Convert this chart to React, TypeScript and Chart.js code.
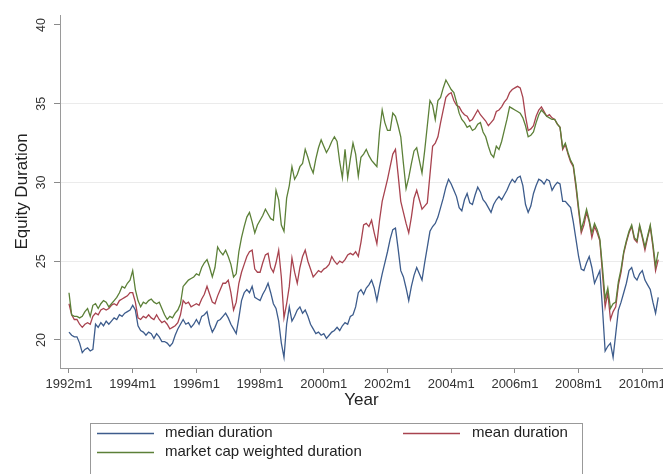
import React, { useEffect, useRef } from "react";
import { Chart, registerables } from "chart.js";
Chart.register(...registerables);

// Monthly data, 1992m1 .. 2010m7
const xTickLabels = ["1992m1", "1994m1", "1996m1", "1998m1", "2000m1", "2002m1", "2004m1", "2006m1", "2008m1", "2010m1"];
const monthsPerTick = 24;
const yTickValues = [20, 25, 30, 35, 40];

const medianDuration = [
  20.5, 20.3, 20.2, 20.2, 19.8, 19.2, 19.4, 19.5, 19.3, 19.4, 21.0, 20.8,
  21.1, 20.9, 21.2, 21.0, 21.2, 21.4, 21.3, 21.6, 21.5, 21.7, 21.8, 21.9,
  22.2, 21.9, 20.9, 20.6, 20.5, 20.3, 20.5, 20.4, 20.1, 20.4, 20.2, 19.9,
  19.9, 19.8, 19.6, 19.8, 20.3, 20.7, 21.0, 21.3, 21.0, 21.1, 20.8, 21.0,
  21.3, 21.0, 21.5, 21.6, 21.8, 21.0, 20.5, 20.8, 21.2, 21.3, 21.5, 21.7,
  21.4, 21.0, 20.7, 20.4, 21.4, 22.5, 23.0, 23.2, 23.0, 23.4, 22.7, 22.6,
  22.5, 22.9, 23.2, 23.6, 23.0, 22.3, 22.0, 21.2, 19.8, 18.9, 21.0, 22.1,
  21.2, 21.5, 21.9, 22.1, 21.7, 21.9, 21.5, 21.0, 20.7, 20.4, 20.5, 20.3,
  20.4, 20.1, 20.3, 20.5, 20.6, 20.8, 20.6, 20.9, 21.1, 21.0, 21.5, 21.6,
  22.1, 23.0, 23.2, 22.9, 23.3, 23.5, 23.8, 23.3, 22.5, 23.4, 24.2, 24.9,
  25.6, 26.4, 27.0, 27.1, 25.8, 24.4, 24.0, 23.3, 22.5, 23.4, 24.1, 24.6,
  24.2, 23.8, 24.9, 25.9, 26.9, 27.2, 27.4, 27.8, 28.4, 29.0, 29.7, 30.2,
  29.9, 29.5, 29.1, 28.4, 28.2, 28.9, 29.3, 28.7, 28.6, 29.2, 29.7, 29.4,
  28.9, 28.7, 28.4, 28.1, 28.6, 28.9, 29.1, 28.9, 29.2, 29.5, 29.9, 30.2,
  30.0, 30.3, 30.4, 29.8, 28.6, 28.1, 28.5, 29.3, 29.8, 30.2, 30.1, 29.9,
  30.2, 30.1, 29.5, 29.8, 30.0, 29.9, 28.8, 28.8, 28.6, 28.4, 27.5, 26.4,
  25.3, 24.5, 24.4, 24.9, 25.3, 24.6, 23.6, 24.0, 24.4, 22.0, 19.3, 19.6,
  19.8, 18.9, 20.4, 21.9, 22.4, 23.0, 23.6, 24.4, 24.6, 24.0, 23.8, 24.2,
  24.4, 23.8, 23.5, 23.2, 22.4, 21.7, 22.7,
];

const meanDuration = [
  22.3, 21.6, 21.3, 21.3, 21.0, 20.8, 21.0, 21.1, 21.0, 21.5, 21.7, 21.6,
  21.9, 22.0, 21.9, 22.0, 22.2, 22.3, 22.2, 22.5, 22.6, 22.7, 22.8, 23.0,
  23.0, 22.4, 21.4, 21.3, 21.5, 21.4, 21.6, 21.4, 21.3, 21.6, 21.3, 21.1,
  21.2, 21.0, 20.7, 20.8, 20.9, 21.1, 21.6, 22.5, 22.3, 22.4, 22.1, 22.2,
  22.3, 22.2, 22.6, 22.9, 23.4, 22.9, 22.4, 22.3, 22.8, 23.2, 23.6, 23.6,
  23.8, 23.0, 21.9, 22.4, 23.6, 24.3, 24.8, 25.3, 25.6, 25.7, 24.5, 24.3,
  24.3, 24.9, 25.4, 25.5, 24.6, 24.3, 24.9, 25.7, 24.0, 21.4, 22.3, 23.4,
  25.2, 24.3, 23.6, 24.6, 25.3, 25.7, 25.0, 24.5, 24.0, 24.2, 24.4, 24.3,
  24.5, 24.6, 24.8, 25.3, 25.0, 24.8, 25.0, 24.9, 25.1, 25.4, 25.5, 25.4,
  25.6, 25.3, 26.2, 27.3, 27.4, 27.2, 27.6, 26.8, 26.1, 27.6, 28.8, 29.5,
  30.2, 31.0, 31.8, 32.1, 30.5, 28.8, 28.1, 27.4, 26.8, 27.8, 29.0, 29.5,
  28.9, 28.3, 28.5, 28.7, 30.5, 32.3, 32.5, 32.9, 33.8, 34.6, 35.4, 35.6,
  35.7, 35.2, 34.9, 34.8, 34.5, 34.3, 34.2, 33.9, 34.0, 34.3, 34.6, 34.3,
  34.1, 33.9, 33.6, 33.8, 34.0, 34.5, 34.6, 34.8, 35.1, 35.3, 35.7, 35.9,
  36.0, 36.1, 36.0, 35.4, 34.2, 33.3, 33.4, 33.6, 34.2, 34.6, 34.8, 34.5,
  34.2, 34.3, 34.1, 34.0, 33.7, 33.5, 32.1, 32.4, 31.8, 31.3, 31.0, 29.7,
  28.2, 26.8, 27.3, 28.1, 27.5, 26.5, 27.2, 26.8, 26.3, 24.2, 22.1, 23.0,
  21.3, 21.8, 22.1, 23.5, 24.3, 25.5, 26.2, 26.8, 27.2, 26.4, 26.2, 27.2,
  26.5, 25.7, 26.5, 27.2, 25.9, 24.4, 25.1,
];

const marketCapWeightedDuration = [
  23.0, 21.6, 21.5, 21.5, 21.4, 21.5, 21.8, 22.0, 21.5, 22.2, 22.3, 22.0,
  22.3, 22.5, 22.4, 22.1, 22.3, 22.5, 22.7, 23.0, 23.4, 23.3, 23.6, 23.8,
  24.4, 23.2, 22.5, 22.1, 22.4, 22.3, 22.5, 22.6, 22.4, 22.3, 22.4, 22.0,
  21.6, 21.3, 21.5, 21.4, 21.7, 21.9, 22.3, 23.4, 23.6, 23.8, 23.9, 24.0,
  24.2, 24.1, 24.6, 24.9, 25.1, 24.6, 24.0, 24.6, 25.9, 25.6, 25.4, 25.7,
  25.3, 24.8, 24.0, 24.2, 25.6, 26.5, 27.2, 27.8, 28.1, 27.5, 26.8, 27.3,
  27.6, 27.9, 28.3, 28.0, 27.7, 27.6, 29.5, 28.9, 27.3, 26.9, 29.0, 29.8,
  31.0, 30.2, 30.5, 31.0, 31.2, 32.1, 31.6, 31.0, 30.6, 31.5, 32.2, 32.7,
  32.3, 31.9, 32.2, 32.6, 32.9, 32.6, 31.3, 30.3, 32.1, 30.3, 31.5, 32.5,
  31.8, 30.4, 31.6, 31.8, 32.1, 31.7, 31.4, 31.2, 31.0, 33.2, 34.6, 33.8,
  33.3, 33.3, 34.4, 34.2, 33.6, 32.9, 31.2, 29.6, 30.3, 31.2, 32.0, 32.2,
  31.4, 30.6, 32.0, 33.6, 35.2, 34.9, 34.0, 35.2, 35.4, 36.0, 36.5, 36.2,
  35.9, 35.7, 35.1, 34.4, 34.0, 33.8, 33.5, 33.6, 33.3, 33.4, 33.7, 33.8,
  33.2, 32.9, 32.3, 31.8, 31.6, 32.3, 32.1, 32.6, 33.3, 34.0, 34.8, 34.7,
  34.6, 34.5, 34.4, 34.1, 33.6, 32.9, 33.0, 33.2, 33.8, 34.3, 34.6, 34.4,
  34.2, 34.1, 34.0, 34.0, 33.7, 33.5, 32.2, 32.5, 31.9, 31.4, 31.1, 29.9,
  28.4, 27.0, 27.6, 28.3, 27.6, 26.8, 27.4, 27.0, 26.4, 24.6, 22.6, 23.3,
  22.0, 22.3, 22.4, 23.7, 24.5, 25.6, 26.3, 26.9, 27.3, 26.5, 26.3, 27.3,
  26.6, 25.9, 26.6, 27.3, 26.1, 24.7, 25.6,
];

const seriesNames = ["median duration", "mean duration", "market cap weighted duration"];
const seriesColors = ["#3d5c8c", "#a8434f", "#5c8038"];

const FONT = '"Liberation Sans", Arial, Helvetica, sans-serif';

export default function App() {
  const ref = useRef<HTMLCanvasElement>(null);

  useEffect(() => {
    const canvas = ref.current;
    if (!canvas) return;

    const toPts = (arr: number[]) => arr.map((v, i) => ({ x: i, y: v }));

    const decor = {
      id: "decor",
      afterDraw(chart: any) {
        const ctx = chart.ctx as CanvasRenderingContext2D;
        const xs = chart.scales.x;
        const ys = chart.scales.y;
        ctx.save();
        ctx.fillStyle = "#333";
        ctx.textAlign = "center";
        ctx.textBaseline = "middle";
        ctx.font = `13px ${FONT}`;
        xTickLabels.forEach((lab, i) => {
          ctx.fillText(lab, xs.getPixelForValue(i * monthsPerTick), 384);
        });
        ctx.font = `12.5px ${FONT}`;
        yTickValues.forEach((v) => {
          const y = ys.getPixelForValue(v);
          ctx.save();
          ctx.translate(42, y);
          ctx.rotate(-Math.PI / 2);
          ctx.fillText(String(v), 0, 0);
          ctx.restore();
        });
        ctx.fillStyle = "#222";
        ctx.font = `17px ${FONT}`;
        ctx.fillText("Year", (xs.left + xs.right) / 2, 400);
        ctx.save();
        ctx.translate(22, (ys.top + ys.bottom) / 2);
        ctx.rotate(-Math.PI / 2);
        ctx.fillText("Equity Duration", 0, 0);
        ctx.restore();

        // legend
        ctx.strokeStyle = "#999";
        ctx.lineWidth = 1;
        ctx.strokeRect(90.5, 423.5, 492, 70);
        const items = [
          { x: 97, y: 433, tx: 165 },
          { x: 403, y: 433, tx: 472 },
          { x: 97, y: 452, tx: 165 },
        ];
        ctx.font = `15px ${FONT}`;
        ctx.textAlign = "left";
        items.forEach((it, i) => {
          ctx.strokeStyle = seriesColors[i];
          ctx.lineWidth = 1.4;
          ctx.beginPath();
          ctx.moveTo(it.x, it.y + 0.5);
          ctx.lineTo(it.x + 57, it.y + 0.5);
          ctx.stroke();
          ctx.fillStyle = "#222";
          ctx.fillText(seriesNames[i], it.tx, it.y);
        });
        ctx.restore();
      },
    };

    const chart = new Chart(canvas, {
      type: "line",
      data: {
        datasets: [
          { label: seriesNames[0], data: toPts(medianDuration), borderColor: seriesColors[0], order: 3 },
          { label: seriesNames[1], data: toPts(meanDuration), borderColor: seriesColors[1], order: 2 },
          { label: seriesNames[2], data: toPts(marketCapWeightedDuration), borderColor: seriesColors[2], order: 1 },
        ],
      },
      options: {
        responsive: false,
        maintainAspectRatio: false,
        animation: false,
        devicePixelRatio: 1,
        layout: { padding: { top: 15, left: 0, right: 0, bottom: 0 } },
        elements: {
          point: { radius: 0 },
          line: { borderWidth: 1.3, tension: 0, fill: false },
        },
        plugins: { legend: { display: false }, tooltip: { enabled: false } },
        scales: {
          x: {
            type: "linear",
            min: -3.39,
            max: 223.8,
            ticks: { display: false },
            grid: { drawOnChartArea: false, drawTicks: true, tickLength: 5, tickColor: "#8a8a8a", color: "#8a8a8a" },
            border: { display: true, color: "#9a9a9a", width: 1 },
            afterBuildTicks: (s: any) => {
              s.ticks = xTickLabels.map((_, i) => ({ value: i * monthsPerTick }));
            },
            afterFit: (s: any) => {
              s.height = 106;
            },
          },
          y: {
            type: "linear",
            min: 18.22,
            max: 40.63,
            ticks: { display: false },
            grid: {
              drawTicks: true,
              tickLength: 6,
              tickColor: "#8a8a8a",
              color: (c: any) => (c.tick && c.tick.value === 40 ? "rgba(0,0,0,0)" : "#ebebeb"),
            },
            border: { display: true, color: "#9a9a9a", width: 1 },
            afterBuildTicks: (s: any) => {
              s.ticks = yTickValues.map((v) => ({ value: v }));
            },
            afterFit: (s: any) => {
              s.width = 60;
            },
          },
        },
      },
      plugins: [decor],
    });

    return () => chart.destroy();
  }, []);

  return (
    <div style={{ position: "absolute", left: 0, top: 0, width: 663, height: 474, background: "#fff" }}>
      <canvas ref={ref} width={663} height={474} style={{ display: "block" }} />
    </div>
  );
}
